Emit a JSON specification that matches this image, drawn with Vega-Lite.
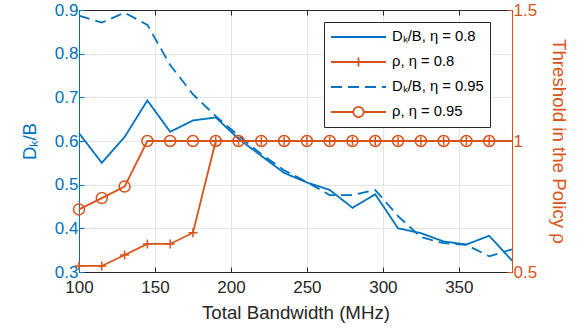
{
  "$schema": "https://vega.github.io/schema/vega-lite/v6.json",
  "width": 433,
  "height": 262,
  "autosize": {"type": "none"},
  "padding": {"left": 79, "top": 10, "right": 67, "bottom": 59},
  "background": "white",
  "config": {
    "font": "Liberation Sans",
    "view": {"stroke": "#262626", "strokeWidth": 1},
    "axis": {"labelFontSize": 17, "titleFontSize": 18.7, "titleFontWeight": "normal", "tickSize": -5, "tickWidth": 1, "domainWidth": 1, "labelFlush": false}
  },
  "data": {
    "values": [
      {"bw": 100, "v": 0.618, "series": "Dₖ/B, η = 0.8", "side": "D"},
      {"bw": 115, "v": 0.550, "series": "Dₖ/B, η = 0.8", "side": "D"},
      {"bw": 130, "v": 0.609, "series": "Dₖ/B, η = 0.8", "side": "D"},
      {"bw": 145, "v": 0.693, "series": "Dₖ/B, η = 0.8", "side": "D"},
      {"bw": 160, "v": 0.621, "series": "Dₖ/B, η = 0.8", "side": "D"},
      {"bw": 175, "v": 0.647, "series": "Dₖ/B, η = 0.8", "side": "D"},
      {"bw": 190, "v": 0.654, "series": "Dₖ/B, η = 0.8", "side": "D"},
      {"bw": 205, "v": 0.605, "series": "Dₖ/B, η = 0.8", "side": "D"},
      {"bw": 220, "v": 0.566, "series": "Dₖ/B, η = 0.8", "side": "D"},
      {"bw": 235, "v": 0.527, "series": "Dₖ/B, η = 0.8", "side": "D"},
      {"bw": 250, "v": 0.505, "series": "Dₖ/B, η = 0.8", "side": "D"},
      {"bw": 265, "v": 0.488, "series": "Dₖ/B, η = 0.8", "side": "D"},
      {"bw": 280, "v": 0.447, "series": "Dₖ/B, η = 0.8", "side": "D"},
      {"bw": 295, "v": 0.478, "series": "Dₖ/B, η = 0.8", "side": "D"},
      {"bw": 310, "v": 0.400, "series": "Dₖ/B, η = 0.8", "side": "D"},
      {"bw": 325, "v": 0.389, "series": "Dₖ/B, η = 0.8", "side": "D"},
      {"bw": 340, "v": 0.370, "series": "Dₖ/B, η = 0.8", "side": "D"},
      {"bw": 355, "v": 0.363, "series": "Dₖ/B, η = 0.8", "side": "D"},
      {"bw": 370, "v": 0.383, "series": "Dₖ/B, η = 0.8", "side": "D"},
      {"bw": 385, "v": 0.326, "series": "Dₖ/B, η = 0.8", "side": "D"},
      {"bw": 100, "v": 0.887, "series": "Dₖ/B, η = 0.95", "side": "D"},
      {"bw": 115, "v": 0.871, "series": "Dₖ/B, η = 0.95", "side": "D"},
      {"bw": 130, "v": 0.894, "series": "Dₖ/B, η = 0.95", "side": "D"},
      {"bw": 145, "v": 0.866, "series": "Dₖ/B, η = 0.95", "side": "D"},
      {"bw": 160, "v": 0.774, "series": "Dₖ/B, η = 0.95", "side": "D"},
      {"bw": 175, "v": 0.707, "series": "Dₖ/B, η = 0.95", "side": "D"},
      {"bw": 190, "v": 0.657, "series": "Dₖ/B, η = 0.95", "side": "D"},
      {"bw": 205, "v": 0.612, "series": "Dₖ/B, η = 0.95", "side": "D"},
      {"bw": 220, "v": 0.570, "series": "Dₖ/B, η = 0.95", "side": "D"},
      {"bw": 235, "v": 0.533, "series": "Dₖ/B, η = 0.95", "side": "D"},
      {"bw": 250, "v": 0.506, "series": "Dₖ/B, η = 0.95", "side": "D"},
      {"bw": 265, "v": 0.476, "series": "Dₖ/B, η = 0.95", "side": "D"},
      {"bw": 280, "v": 0.476, "series": "Dₖ/B, η = 0.95", "side": "D"},
      {"bw": 295, "v": 0.488, "series": "Dₖ/B, η = 0.95", "side": "D"},
      {"bw": 310, "v": 0.428, "series": "Dₖ/B, η = 0.95", "side": "D"},
      {"bw": 325, "v": 0.380, "series": "Dₖ/B, η = 0.95", "side": "D"},
      {"bw": 340, "v": 0.366, "series": "Dₖ/B, η = 0.95", "side": "D"},
      {"bw": 355, "v": 0.362, "series": "Dₖ/B, η = 0.95", "side": "D"},
      {"bw": 370, "v": 0.336, "series": "Dₖ/B, η = 0.95", "side": "D"},
      {"bw": 385, "v": 0.352, "series": "Dₖ/B, η = 0.95", "side": "D"},
      {"bw": 100, "v": 0.523, "series": "ρ, η = 0.8", "side": "R"},
      {"bw": 115, "v": 0.523, "series": "ρ, η = 0.8", "side": "R"},
      {"bw": 130, "v": 0.565, "series": "ρ, η = 0.8", "side": "R"},
      {"bw": 145, "v": 0.607, "series": "ρ, η = 0.8", "side": "R"},
      {"bw": 160, "v": 0.607, "series": "ρ, η = 0.8", "side": "R"},
      {"bw": 175, "v": 0.650, "series": "ρ, η = 0.8", "side": "R"},
      {"bw": 190, "v": 1, "series": "ρ, η = 0.8", "side": "R"},
      {"bw": 205, "v": 1, "series": "ρ, η = 0.8", "side": "R"},
      {"bw": 220, "v": 1, "series": "ρ, η = 0.8", "side": "R"},
      {"bw": 235, "v": 1, "series": "ρ, η = 0.8", "side": "R"},
      {"bw": 250, "v": 1, "series": "ρ, η = 0.8", "side": "R"},
      {"bw": 265, "v": 1, "series": "ρ, η = 0.8", "side": "R"},
      {"bw": 280, "v": 1, "series": "ρ, η = 0.8", "side": "R"},
      {"bw": 295, "v": 1, "series": "ρ, η = 0.8", "side": "R"},
      {"bw": 310, "v": 1, "series": "ρ, η = 0.8", "side": "R"},
      {"bw": 325, "v": 1, "series": "ρ, η = 0.8", "side": "R"},
      {"bw": 340, "v": 1, "series": "ρ, η = 0.8", "side": "R"},
      {"bw": 355, "v": 1, "series": "ρ, η = 0.8", "side": "R"},
      {"bw": 370, "v": 1, "series": "ρ, η = 0.8", "side": "R"},
      {"bw": 385, "v": 1, "series": "ρ, η = 0.8", "side": "R"},
      {"bw": 100, "v": 0.739, "series": "ρ, η = 0.95", "side": "R"},
      {"bw": 115, "v": 0.782, "series": "ρ, η = 0.95", "side": "R"},
      {"bw": 130, "v": 0.826, "series": "ρ, η = 0.95", "side": "R"},
      {"bw": 145, "v": 1, "series": "ρ, η = 0.95", "side": "R"},
      {"bw": 160, "v": 1, "series": "ρ, η = 0.95", "side": "R"},
      {"bw": 175, "v": 1, "series": "ρ, η = 0.95", "side": "R"},
      {"bw": 190, "v": 1, "series": "ρ, η = 0.95", "side": "R"},
      {"bw": 205, "v": 1, "series": "ρ, η = 0.95", "side": "R"},
      {"bw": 220, "v": 1, "series": "ρ, η = 0.95", "side": "R"},
      {"bw": 235, "v": 1, "series": "ρ, η = 0.95", "side": "R"},
      {"bw": 250, "v": 1, "series": "ρ, η = 0.95", "side": "R"},
      {"bw": 265, "v": 1, "series": "ρ, η = 0.95", "side": "R"},
      {"bw": 280, "v": 1, "series": "ρ, η = 0.95", "side": "R"},
      {"bw": 295, "v": 1, "series": "ρ, η = 0.95", "side": "R"},
      {"bw": 310, "v": 1, "series": "ρ, η = 0.95", "side": "R"},
      {"bw": 325, "v": 1, "series": "ρ, η = 0.95", "side": "R"},
      {"bw": 340, "v": 1, "series": "ρ, η = 0.95", "side": "R"},
      {"bw": 355, "v": 1, "series": "ρ, η = 0.95", "side": "R"},
      {"bw": 370, "v": 1, "series": "ρ, η = 0.95", "side": "R"},
      {"bw": 385, "v": 1, "series": "ρ, η = 0.95", "side": "R"}
    ]
  },
  "layer": [
    {
      "transform": [{"filter": "datum.side == 'D'"}],
      "mark": {"type": "line", "strokeWidth": 1.8},
      "encoding": {
        "x": {
          "field": "bw", "type": "quantitative",
          "scale": {"domain": [100, 385], "nice": false, "zero": false},
          "axis": {
            "orient": "bottom", "values": [100, 150, 200, 250, 300, 350],
            "title": "Total Bandwidth (MHz)", "grid": true, "gridColor": "#e3e3e3",
            "domainColor": "#262626", "tickColor": "#262626", "labelColor": "#262626",
            "titleColor": "#262626", "labelPadding": 12, "titlePadding": 8
          }
        },
        "y": {
          "field": "v", "type": "quantitative",
          "scale": {"domain": [0.3, 0.9], "nice": false, "zero": false},
          "axis": {
            "orient": "left", "values": [0.3, 0.4, 0.5, 0.6, 0.7, 0.8, 0.9], "format": ".1f",
            "title": "Dₖ/B", "grid": true, "gridColor": "#e3e3e3",
            "domainColor": "#0072BD", "tickColor": "#0072BD", "labelColor": "#0072BD",
            "titleColor": "#0072BD", "labelPadding": 6, "titlePadding": 15
          }
        },
        "color": {
          "field": "series", "type": "nominal",
          "scale": {
            "domain": ["Dₖ/B, η = 0.8", "ρ, η = 0.8", "Dₖ/B, η = 0.95", "ρ, η = 0.95"],
            "range": ["#0072BD", "#D95319", "#0072BD", "#D95319"]
          },
          "legend": {
            "title": null, "orient": "none", "legendX": 245, "legendY": 12,
            "fillColor": "white", "strokeColor": "#262626", "padding": 6,
            "labelFontSize": 14.8, "labelColor": "#000000", "labelOffset": 5,
            "symbolSize": 3025, "symbolStrokeWidth": 1.8, "clipHeight": 18, "rowPadding": 7,
            "labelLimit": 300,
            "encode": {
              "symbols": {
                "update": {
                  "shape": {"signal": "datum.value == 'ρ, η = 0.8' ? 'M-1,0H1M0,-0.16V0.16' : (datum.value == 'ρ, η = 0.95' ? 'M-1,0H-0.19M0.19,0H1M-0.19,0A0.19,0.19 0 1,1 0.19,0A0.19,0.19 0 1,1 -0.19,0' : 'M-1,0H1')"},
                  "strokeDash": {"signal": "datum.value == 'Dₖ/B, η = 0.95' ? [11, 6] : []"},
                  "stroke": {"signal": "indexOf(datum.value, 'ρ') >= 0 ? '#D95319' : '#0072BD'"},
                  "fill": {"value": "transparent"},
                  "strokeWidth": {"value": 1.8},
                  "opacity": {"value": 1}
                }
              }
            }
          }
        },
        "strokeDash": {
          "field": "series", "type": "nominal",
          "scale": {"domain": ["Dₖ/B, η = 0.8", "Dₖ/B, η = 0.95"], "range": [[1, 0], [11, 6]]},
          "legend": null
        }
      }
    },
    {
      "transform": [{"filter": "datum.side == 'R'"}],
      "encoding": {
        "x": {
          "field": "bw", "type": "quantitative",
          "scale": {"domain": [100, 385], "nice": false, "zero": false},
          "axis": {
            "orient": "top", "values": [100, 150, 200, 250, 300, 350], "labels": false,
            "title": null, "grid": false, "domainColor": "#262626", "tickColor": "#262626"
          }
        },
        "y": {
          "field": "v", "type": "quantitative",
          "scale": {"domain": [0.5, 1.5], "nice": false, "zero": false},
          "axis": {
            "orient": "right", "values": [0.5, 1, 1.5], "format": "~g",
            "title": "Threshold in the Policy ρ", "grid": false,
            "domainColor": "#D95319", "tickColor": "#D95319", "labelColor": "#D95319",
            "titleColor": "#D95319", "labelPadding": 6, "titlePadding": 12,
            "encode": {
              "title": {
                "update": {
                  "angle": {"value": 270},
                  "baseline": {"value": "top"},
                  "align": {"value": "center"}
                }
              }
            }
          }
        },
        "color": {"field": "series", "type": "nominal"}
      },
      "layer": [
        {"mark": {"type": "line", "strokeWidth": 1.8}},
        {
          "transform": [{"filter": "datum.series == 'ρ, η = 0.8' && datum.bw < 385"}],
          "mark": {"type": "point", "shape": "M-1,0H1M0,-1V1", "filled": false, "size": 81, "strokeWidth": 1.5, "opacity": 1}
        },
        {
          "transform": [{"filter": "datum.series == 'ρ, η = 0.95' && datum.bw < 385"}],
          "mark": {"type": "point", "shape": "circle", "filled": false, "size": 121, "strokeWidth": 1.5, "opacity": 1}
        }
      ]
    }
  ],
  "resolve": {"scale": {"y": "independent"}, "axis": {"x": "independent", "y": "independent"}}
}
